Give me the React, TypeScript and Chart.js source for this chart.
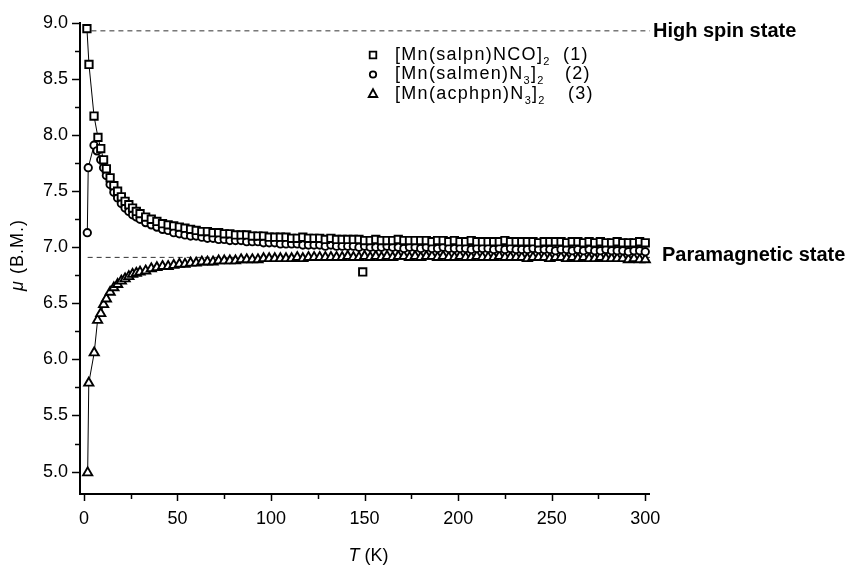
import React, { useEffect, useRef } from 'react';
import { Chart, registerables } from 'chart.js';

Chart.register(...registerables);

const FONT = "'Liberation Sans', Arial, sans-serif";

// ---- data -------------------------------------------------------------
// Temperatures (K) shared by the three series above 9 K
const T_GRID = [
  9, 10.5, 12, 14, 16, 18, 20, 22, 24, 26, 28, 30,
  33, 36, 39, 42, 45, 48, 51, 54, 57, 60, 63, 66, 69, 72, 75, 78, 81, 84, 87, 90,
  93, 96, 99, 102, 105, 108, 111, 114, 117, 120, 123, 126, 129, 132, 135, 138, 141, 144, 147, 150,
  153, 156, 159, 162, 165, 168, 171, 174, 177, 180, 183, 186, 189, 192, 195, 198, 201, 204, 207, 210,
  213, 216, 219, 222, 225, 228, 231, 234, 237, 240, 243, 246, 249, 252, 255, 258, 261, 264, 267, 270,
  273, 276, 279, 282, 285, 288, 291, 294, 297, 300,
];

// (1) [Mn(salpn)NCO]2 - squares
const T1_LOW = [1.6, 2.7, 5.4, 7.5];
const MU1_LOW = [8.95, 8.63, 8.17, 7.98];
const MU1 = [
  7.88, 7.78, 7.70, 7.62, 7.55, 7.50, 7.45, 7.41, 7.38, 7.35, 7.32, 7.30,
  7.27, 7.25, 7.23, 7.21, 7.20, 7.19, 7.18, 7.17, 7.16, 7.15,
  7.14, 7.14, 7.13, 7.13, 7.12, 7.12, 7.11, 7.11, 7.11, 7.10,
  7.10, 7.10, 7.09, 7.09, 7.09, 7.09, 7.08, 7.08, 7.09, 7.08,
  7.08, 7.08, 7.07, 7.08, 7.07, 7.07, 7.07, 7.07, 7.07, 7.06,
  7.06, 7.07, 7.06, 7.06, 7.06, 7.07, 7.06, 7.06, 7.06, 7.06,
  7.06, 7.05, 7.06, 7.06, 7.05, 7.06, 7.05, 7.05, 7.06, 7.05,
  7.05, 7.05, 7.05, 7.05, 7.06, 7.05, 7.05, 7.05, 7.05, 7.05,
  7.04, 7.05, 7.05, 7.05, 7.05, 7.04, 7.05, 7.05, 7.04, 7.05,
  7.04, 7.05, 7.04, 7.04, 7.05, 7.04, 7.04, 7.04, 7.05, 7.04,
];
const T1_OUTLIER = [149];
const MU1_OUTLIER = [6.78];

// (2) [Mn(salmen)N3]2 - circles
const T2_LOW = [1.8, 2.3, 5.4, 7.0];
const MU2_LOW = [7.13, 7.71, 7.91, 7.86];
const MU2 = [
  7.78, 7.71, 7.64, 7.56, 7.49, 7.44, 7.39, 7.35, 7.32, 7.29, 7.27, 7.25,
  7.22, 7.20, 7.18, 7.16, 7.15, 7.13, 7.12, 7.11, 7.10, 7.10,
  7.09, 7.08, 7.08, 7.07, 7.07, 7.06, 7.06, 7.06, 7.05, 7.05,
  7.05, 7.04, 7.04, 7.04, 7.03, 7.03, 7.03, 7.03, 7.02, 7.02,
  7.02, 7.02, 7.01, 7.02, 7.01, 7.01, 7.01, 7.01, 7.00, 7.01,
  7.00, 7.00, 7.00, 7.01, 7.00, 7.00, 6.99, 7.00, 7.00, 6.99,
  7.00, 6.99, 6.99, 7.00, 6.99, 6.99, 6.99, 6.99, 6.98, 6.99,
  6.99, 6.99, 6.98, 6.99, 6.98, 6.99, 6.98, 6.98, 6.98, 6.99,
  6.98, 6.98, 6.98, 6.97, 6.98, 6.98, 6.97, 6.98, 6.97, 6.98,
  6.97, 6.97, 6.98, 6.97, 6.97, 6.97, 6.96, 6.97, 6.97, 6.96,
];

// (3) [Mn(acphpn)N3]2 - triangles
const T3_LOW = [2.0, 2.6, 5.5, 7.3];
const MU3_LOW = [4.99, 5.79, 6.06, 6.35];
const MU3 = [
  6.41, 6.49, 6.54, 6.60, 6.64, 6.67, 6.70, 6.72, 6.74, 6.76, 6.77, 6.78,
  6.79, 6.81, 6.82, 6.83, 6.83, 6.84, 6.85, 6.85, 6.86, 6.86,
  6.87, 6.87, 6.87, 6.88, 6.88, 6.88, 6.88, 6.89, 6.89, 6.89,
  6.89, 6.90, 6.90, 6.90, 6.90, 6.90, 6.90, 6.91, 6.90, 6.91,
  6.91, 6.91, 6.91, 6.91, 6.91, 6.91, 6.92, 6.91, 6.91, 6.92,
  6.91, 6.92, 6.91, 6.92, 6.91, 6.92, 6.92, 6.91, 6.92, 6.91,
  6.92, 6.92, 6.91, 6.92, 6.91, 6.91, 6.92, 6.91, 6.91, 6.92,
  6.91, 6.91, 6.91, 6.92, 6.91, 6.91, 6.91, 6.91, 6.90, 6.91,
  6.91, 6.91, 6.90, 6.91, 6.91, 6.90, 6.91, 6.90, 6.91, 6.90,
  6.90, 6.91, 6.90, 6.90, 6.90, 6.90, 6.89, 6.90, 6.89, 6.89,
];

// reference levels
const HIGH_SPIN_MU = 8.93;
const HIGH_SPIN_T = [4, 302.5];
const PARA_MU = 6.91;
const PARA_T = [2, 302.5];
const HIGH_SPIN_LABEL = 'High spin state';
const PARA_LABEL = 'Paramagnetic state';

// axes
const X_TICKS = [0, 25, 50, 75, 100, 125, 150, 175, 200, 225, 250, 275, 300];
const Y_TICKS = [5.0, 5.25, 5.5, 5.75, 6.0, 6.25, 6.5, 6.75, 7.0, 7.25, 7.5, 7.75, 8.0, 8.25, 8.5, 8.75, 9.0];
const X_MIN = -2.1;
const X_MAX = 302;
const Y_MIN = 4.8;
const Y_MAX = 9.0;

// legend
const LEGEND_NAMES = [
  [{ t: '[Mn(salpn)NCO]' }, { t: '2', sub: true }],
  [{ t: '[Mn(salmen)N' }, { t: '3', sub: true }, { t: ']' }, { t: '2', sub: true }],
  [{ t: '[Mn(acphpn)N' }, { t: '3', sub: true }, { t: ']' }, { t: '2', sub: true }],
];
const LEGEND_NUMS = ['(1)', '(2)', '(3)'];
const LEGEND_MARKERS = ['rect', 'circle', 'triangle'];

// ---- helpers -----------------------------------------------------------
const zip = (xs: number[], ys: number[]) => xs.map((x, i) => ({ x, y: ys[i] }));

function drawMarker(ctx: CanvasRenderingContext2D, kind: string, cx: number, cy: number) {
  ctx.save();
  ctx.fillStyle = '#fff';
  ctx.strokeStyle = '#000';
  ctx.lineWidth = 1.8;
  ctx.beginPath();
  if (kind === 'rect') {
    ctx.rect(cx - 3.3, cy - 3.3, 6.6, 6.6);
  } else if (kind === 'circle') {
    ctx.arc(cx, cy, 3.2, 0, Math.PI * 2);
  } else {
    ctx.moveTo(cx, cy - 4.8);
    ctx.lineTo(cx + 4.3, cy + 3);
    ctx.lineTo(cx - 4.3, cy + 3);
    ctx.closePath();
  }
  ctx.fill();
  ctx.stroke();
  ctx.restore();
}

const overlay = {
  id: 'overlay',
  afterDraw(chart: any) {
    const ctx: CanvasRenderingContext2D = chart.ctx;
    const xs = chart.scales.x;
    const ys = chart.scales.y;
    const area = chart.chartArea;
    ctx.save();
    ctx.strokeStyle = '#000';
    ctx.fillStyle = '#000';
    ctx.lineWidth = 1.5;
    // tick marks
    X_TICKS.forEach((v) => {
      const px = Math.round(xs.getPixelForValue(v)) + 0.5;
      const len = v % 50 === 0 ? 7 : 5;
      ctx.beginPath();
      ctx.moveTo(px, area.bottom);
      ctx.lineTo(px, area.bottom + len);
      ctx.stroke();
    });
    Y_TICKS.forEach((v) => {
      const py = Math.round(ys.getPixelForValue(v)) + 0.5;
      const major = Math.abs(v * 2 - Math.round(v * 2)) < 1e-6;
      const len = major ? 8 : 5;
      ctx.beginPath();
      ctx.moveTo(area.left, py);
      ctx.lineTo(area.left - len, py);
      ctx.stroke();
    });

    // level labels
    ctx.font = `bold 20px ${FONT}`;
    ctx.textBaseline = 'alphabetic';
    ctx.textAlign = 'left';
    ctx.fillText(HIGH_SPIN_LABEL, xs.getPixelForValue(HIGH_SPIN_T[1]) + 3, ys.getPixelForValue(HIGH_SPIN_MU) + 6);
    ctx.fillText(PARA_LABEL, xs.getPixelForValue(PARA_T[1]) + 12, ys.getPixelForValue(PARA_MU) + 3.5);

    // legend
    const rowY = [59.5, 79, 98.5];
    (ctx as any).letterSpacing = '1.3px';
    LEGEND_NAMES.forEach((runs, i) => {
      drawMarker(ctx, LEGEND_MARKERS[i], 373, rowY[i] - 4.5);
      let x = 395;
      runs.forEach((r: any) => {
        ctx.font = r.sub ? `11px ${FONT}` : `18px ${FONT}`;
        ctx.fillText(r.t, x, rowY[i] + (r.sub ? 5 : 0));
        x += ctx.measureText(r.t).width;
      });
      ctx.font = `18px ${FONT}`;
      ctx.fillText(LEGEND_NUMS[i], [563, 565, 568][i], rowY[i]);
    });
    (ctx as any).letterSpacing = '0px';

    // x title
    ctx.font = `italic 18px ${FONT}`;
    const tW = ctx.measureText('T').width;
    ctx.font = `18px ${FONT}`;
    const kW = ctx.measureText(' (K)').width;
    const sx = (area.left + area.right) / 2 + 4 - (tW + kW) / 2;
    ctx.font = `italic 18px ${FONT}`;
    ctx.fillText('T', sx, 561);
    ctx.font = `18px ${FONT}`;
    ctx.fillText(' (K)', sx + tW, 561);

    // y title
    ctx.save();
    ctx.translate(23, 255);
    ctx.rotate(-Math.PI / 2);
    (ctx as any).letterSpacing = '1px';
    ctx.font = `italic 18px ${FONT}`;
    const muW = ctx.measureText('\u03bc').width;
    ctx.font = `18px ${FONT}`;
    const bmW = ctx.measureText(' (B.M.)').width;
    const start = -(muW + bmW) / 2;
    ctx.font = `italic 18px ${FONT}`;
    ctx.fillText('\u03bc', start, 0);
    ctx.font = `18px ${FONT}`;
    ctx.fillText(' (B.M.)', start + muW, 0);
    (ctx as any).letterSpacing = '0px';
    ctx.restore();

    ctx.restore();
  },
};

export default function App() {
  const ref = useRef<HTMLCanvasElement | null>(null);

  useEffect(() => {
    if (!ref.current) return;
    const pointCommon = {
      borderColor: '#000',
      backgroundColor: '#fff',
      pointBorderColor: '#000',
      pointBackgroundColor: '#fff',
      pointBorderWidth: 1.9,
      borderWidth: 1,
      showLine: true,
      tension: 0,
      clip: false as any,
    };
    const chart = new Chart(ref.current, {
      type: 'scatter',
      data: {
        datasets: [
          {
            ...pointCommon,
            label: '(1)',
            data: zip([...T1_LOW, ...T_GRID], [...MU1_LOW, ...MU1]),
            pointStyle: 'rect',
            pointRadius: 5.2,
          },
          {
            ...pointCommon,
            label: '(1) outlier',
            data: zip(T1_OUTLIER, MU1_OUTLIER),
            pointStyle: 'rect',
            pointRadius: 5.2,
            showLine: false,
          },
          {
            ...pointCommon,
            label: '(2)',
            data: zip([...T2_LOW, ...T_GRID], [...MU2_LOW, ...MU2]),
            pointStyle: 'circle',
            pointRadius: 3.7,
          },
          {
            ...pointCommon,
            label: '(3)',
            data: zip([...T3_LOW, ...T_GRID], [...MU3_LOW, ...MU3]),
            pointStyle: 'triangle',
            pointRadius: 5.3,
          },
          {
            label: 'high spin',
            data: zip(HIGH_SPIN_T, [HIGH_SPIN_MU, HIGH_SPIN_MU]),
            showLine: true,
            borderColor: '#333',
            borderWidth: 1,
            borderDash: [5, 4],
            pointRadius: 0,
            clip: false as any,
          },
          {
            label: 'paramagnetic',
            data: zip(PARA_T, [PARA_MU, PARA_MU]),
            showLine: true,
            borderColor: '#333',
            borderWidth: 1,
            borderDash: [5, 4],
            pointRadius: 0,
            clip: false as any,
          },
        ],
      },
      options: {
        animation: false,
        responsive: false,
        devicePixelRatio: 1,
        layout: { padding: { left: 0, right: 200, top: 23, bottom: 0 } },
        plugins: { legend: { display: false }, tooltip: { enabled: false }, title: { display: false } },
        scales: {
          x: {
            type: 'linear',
            min: X_MIN,
            max: X_MAX,
            afterBuildTicks: (s: any) => {
              s.ticks = X_TICKS.map((v) => ({ value: v }));
            },
            afterFit: (s: any) => {
              s.height = 71;
            },
            grid: { display: false, drawTicks: false },
            border: { display: true, color: '#000', width: 2 },
            ticks: {
              color: '#000',
              font: { family: FONT, size: 18 },
              padding: 14,
              maxRotation: 0,
              autoSkip: false,
              callback: (v: any) => (v % 50 === 0 ? String(v) : ''),
            },
          },
          y: {
            type: 'linear',
            min: Y_MIN,
            max: Y_MAX,
            afterBuildTicks: (s: any) => {
              s.ticks = Y_TICKS.map((v) => ({ value: v }));
            },
            afterFit: (s: any) => {
              s.width = 80;
            },
            grid: { display: false, drawTicks: false },
            border: { display: true, color: '#000', width: 2 },
            ticks: {
              color: '#000',
              font: { family: FONT, size: 18 },
              padding: 12,
              autoSkip: false,
              callback: (v: any) => (Math.abs(v * 2 - Math.round(v * 2)) < 1e-6 ? Number(v).toFixed(1) : ''),
            },
          },
        },
      },
      plugins: [overlay],
    });
    return () => chart.destroy();
  }, []);

  return (
    <div style={{ position: 'absolute', left: 0, top: 0, width: 849, height: 565, background: '#fff' }}>
      <canvas ref={ref} width={849} height={565} style={{ width: 849, height: 565, display: 'block' }} />
    </div>
  );
}
